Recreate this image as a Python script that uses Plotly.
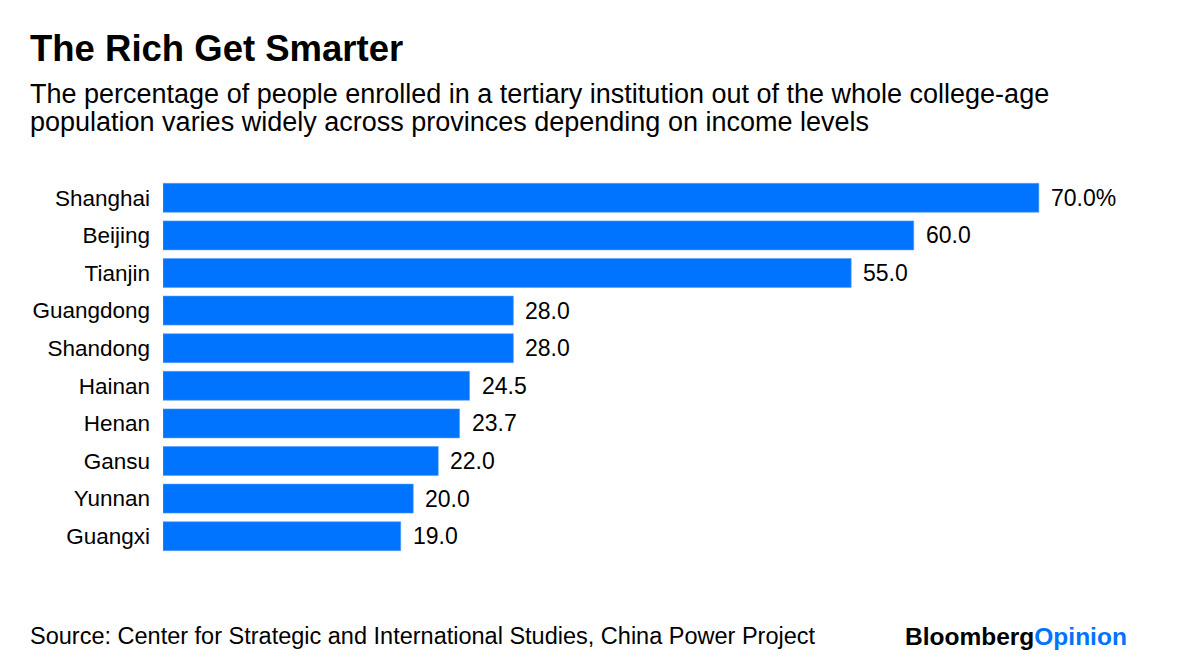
import plotly.graph_objects as go

provinces = ["Shanghai", "Beijing", "Tianjin", "Guangdong", "Shandong",
             "Hainan", "Henan", "Gansu", "Yunnan", "Guangxi"]
enrollment = [70.0, 60.0, 55.0, 28.0, 28.0, 24.5, 23.7, 22.0, 20.0, 19.0]
value_labels = ["70.0%"] + [f"{v:.1f}" for v in enrollment[1:]]

title_text = "The Rich Get Smarter"
subtitle_lines = [
    "The percentage of people enrolled in a tertiary institution out of the whole college-age",
    "population varies widely across provinces depending on income levels",
]
source_text = "Source: Center for Strategic and International Studies, China Power Project"

FONT = "Liberation Sans, Arial, Helvetica, sans-serif"
BLUE = "#0073FF"

# page body has an 8px margin; figure sits at (8, 8)
OFF = 8
W, H = 1184, 648
L, T = 163 - OFF, 178.6 - OFF
PLOT_RIGHT, PLOT_BOTTOM = 1164 - OFF, 555.4 - OFF
R, B = W - PLOT_RIGHT, H - PLOT_BOTTOM
PW, PH = PLOT_RIGHT - L, PLOT_BOTTOM - T
TEXT_LEFT = 28


def px_x(px):
    return (px - OFF - L) / PW


def px_y(py):
    return (PLOT_BOTTOM - (py - OFF)) / PH


fig = go.Figure()
fig.add_trace(go.Bar(
    x=enrollment, y=provinces, orientation="h",
    marker=dict(color=BLUE, line=dict(color="#5C9EFF", width=0.6)),
    hoverinfo="skip",
))

annotations = []
for p, v, lab in zip(provinces, enrollment, value_labels):
    annotations.append(dict(x=v, y=p, xref="x", yref="y", text=lab,
                            showarrow=False, xanchor="left", yanchor="middle",
                            xshift=10, font=dict(family=FONT, size=23, color="#000")))

annotations.append(dict(x=px_x(TEXT_LEFT), y=px_y(48), xref="paper", yref="paper",
                        text=f"<b>{title_text}</b>", showarrow=False,
                        xanchor="left", yanchor="middle",
                        font=dict(family=FONT, size=36.5, color="#000")))
for i, line in enumerate(subtitle_lines):
    annotations.append(dict(x=px_x(TEXT_LEFT), y=px_y(93 + 28 * i), xref="paper", yref="paper",
                            text=line, showarrow=False, xanchor="left", yanchor="middle",
                            font=dict(family=FONT, size=27, color="#000")))
annotations.append(dict(x=px_x(TEXT_LEFT), y=px_y(637), xref="paper", yref="paper",
                        text=source_text, showarrow=False, xanchor="left", yanchor="middle",
                        font=dict(family=FONT, size=23.5, color="#000")))
annotations.append(dict(x=px_x(1129), y=px_y(637), xref="paper", yref="paper",
                        text="<b>Bloomberg</b><b><span style='color:#0073FF'>Opinion</span></b>",
                        showarrow=False, xanchor="right", yanchor="middle",
                        font=dict(family=FONT, size=24.5, color="#000")))

fig.update_layout(
    width=W, height=H,
    margin=dict(l=L, r=R, t=T, b=B, pad=0),
    paper_bgcolor="white", plot_bgcolor="white",
    showlegend=False,
    bargap=0.23,
    annotations=annotations,
    xaxis=dict(range=[0, 80], visible=False, fixedrange=True),
    yaxis=dict(categoryorder="array", categoryarray=provinces, autorange="reversed",
               showgrid=False, zeroline=False, showline=False, ticks="",
               ticklabelstandoff=12,
               tickfont=dict(family=FONT, size=22.5, color="#000"), fixedrange=True),
)

fig.write_html("out.html", config={"displayModeBar": False})
